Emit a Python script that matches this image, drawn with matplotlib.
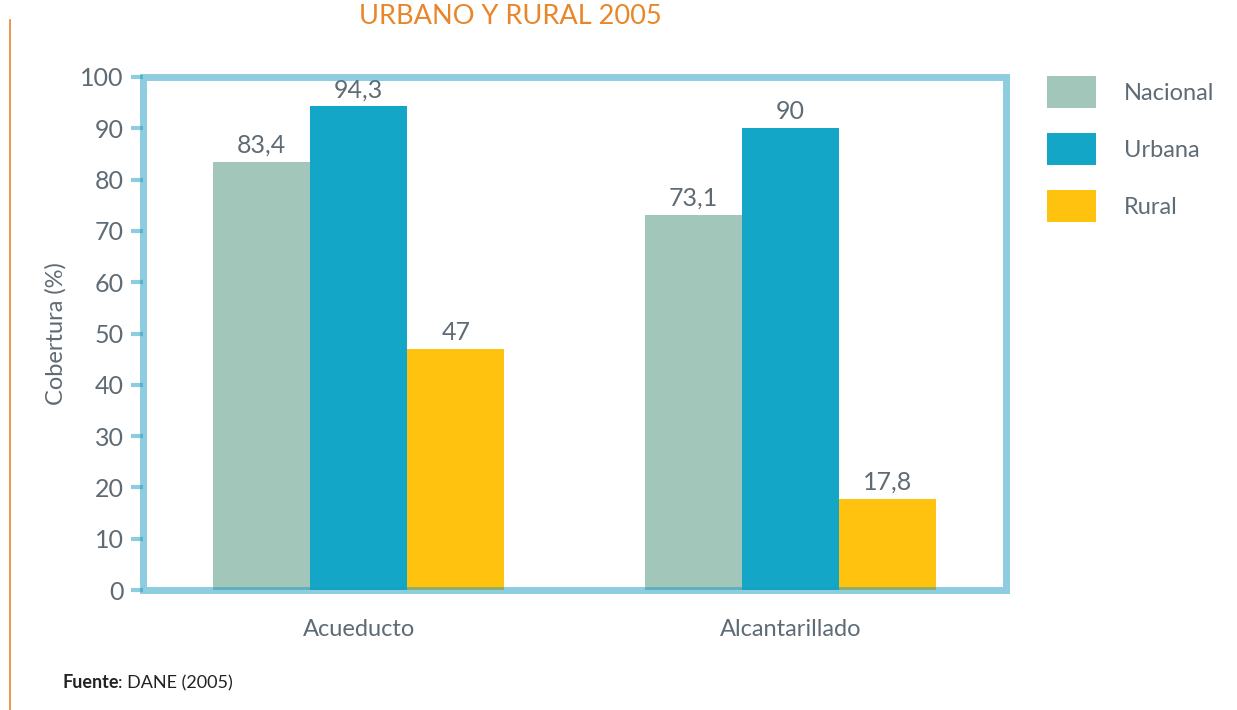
import matplotlib
matplotlib.use("Agg")
import matplotlib.pyplot as plt
from matplotlib.patches import Rectangle, Patch
from matplotlib.transforms import offset_copy
import numpy as np

plt.rcParams['font.family'] = ['Lato', 'DejaVu Sans']

categorias = ["Acueducto", "Alcantarillado"]
series = ["Nacional", "Urbana", "Rural"]
nacional = [83.4, 73.1]
urbana = [94.3, 90.0]
rural = [47.0, 17.8]
etiquetas = [["83,4", "73,1"], ["94,3", "90"], ["47", "17,8"]]
colores = ["#A2C6BA", "#14A6C7", "#FFC20E"]

gris = "#5F6B74"
marco = "#1C9CC0"

fig = plt.figure(figsize=(12.37, 7.10), dpi=100)
ax = fig.add_axes([143 / 1237, 1 - 590 / 710, 863 / 1237, 513 / 710])

x = np.arange(len(categorias))
ancho = 0.225
for i, (vals, col) in enumerate(zip([nacional, urbana, rural], colores)):
    pos = x + (i - 1) * ancho
    ax.bar(pos, vals, width=ancho, color=col, zorder=2)
    for p, v, t in zip(pos, vals, etiquetas[i]):
        ax.text(p, v + 1.0, t, ha="center", va="bottom", fontsize=18, color=gris)

ax.set_xlim(-0.5, 1.5)
ax.set_ylim(0, 100)
ax.set_yticks(range(0, 101, 10))
ax.set_xticks(x)
ax.set_xticklabels(categorias)
for s in ax.spines.values():
    s.set_visible(False)
ax.add_patch(Rectangle((0, 0), 1, 1, transform=ax.transAxes, fill=False,
                       edgecolor=marco, alpha=0.5, linewidth=5, zorder=5, clip_on=False))
ax.tick_params(axis="y", direction="out", length=9, width=3, color=marco + "80",
               labelsize=18, labelcolor=gris, pad=5)
ax.tick_params(axis="x", length=0, labelsize=17, labelcolor=gris, pad=21)
ax.set_ylabel("Cobertura (%)", fontsize=17, color=gris, labelpad=10)

manijas = [Patch(facecolor=c, edgecolor="none") for c in colores]
fig.legend(manijas, series, loc="upper left", bbox_to_anchor=(1026 / 1237, 1 - 55 / 710),
           frameon=False, fontsize=17, labelcolor=gris, handlelength=2.05, handleheight=1.71,
           handletextpad=1.2, labelspacing=1.05)

fig.text(510 / 1237, 1 - 16 / 710, "URBANO Y RURAL 2005", ha="center", va="center",
         fontsize=19.5, color="#E8862A")
fuente = fig.text(62 / 1237, 1 - 683 / 710, "Fuente", ha="left", va="center", fontsize=13,
                  color="#222222", fontweight="bold")
fig.canvas.draw()
w = fuente.get_window_extent().width
fig.text(62 / 1237, 1 - 683 / 710, ": DANE (2005)", ha="left", va="center", fontsize=13,
         color="#222222", transform=offset_copy(fig.transFigure, fig=fig, x=w, units="dots"))
fig.add_artist(plt.Line2D([10 / 1237, 10 / 1237], [1 - 20 / 710, 0], transform=fig.transFigure,
                          color="#E8862A", linewidth=1.2))

fig.savefig("out.png", dpi=100)
